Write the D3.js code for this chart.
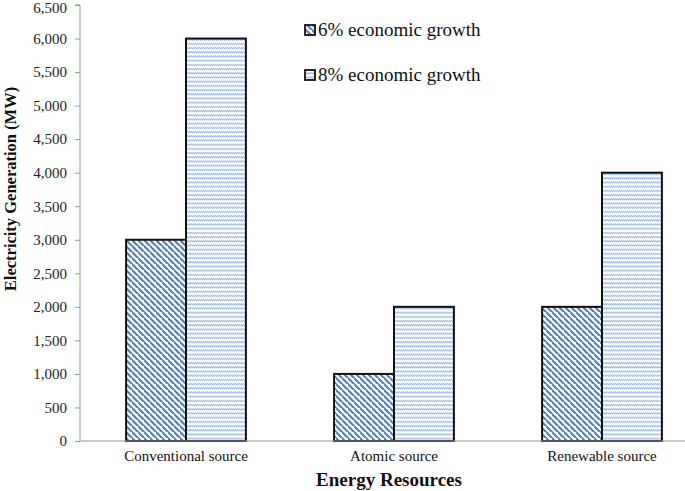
<!DOCTYPE html>
<html><head><meta charset="utf-8">
<script src="https://cdn.jsdelivr.net/npm/d3@7"></script>
<style>body{margin:0;background:#fff}svg{display:block}</style>
</head><body>
<svg id="c" width="685" height="491"></svg>
<script>
const categories = ["Conventional source", "Atomic source", "Renewable source"];
const seriesNames = ["6% economic growth", "8% economic growth"];
const growth6 = [3000, 1000, 2000];
const growth8 = [6000, 2000, 4000];
const yTicks = [0, 500, 1000, 1500, 2000, 2500, 3000, 3500, 4000, 4500, 5000, 5500, 6000, 6500];

const svg = d3.select("#c");
const defs = svg.append("defs");
// 6% pattern: diagonal stripes
const p1 = defs.append("pattern").attr("id","p6").attr("patternUnits","userSpaceOnUse")
  .attr("width",6).attr("height",6);
p1.append("rect").attr("width",6).attr("height",6).attr("fill","#fff");
p1.append("path").attr("d","M-1,-1 L7,7 M-4,2 L2,8 M4,-4 L10,2")
  .attr("stroke","#4f81bd").attr("stroke-width",2.1);
// 8% pattern: light dashed horizontal rows
const p2 = defs.append("pattern").attr("id","p8").attr("patternUnits","userSpaceOnUse")
  .attr("width",4).attr("height",4.2);
p2.append("rect").attr("width",4).attr("height",4.2).attr("fill","#fff");
p2.append("path").attr("d","M0,2.6 L2,1.2 M2,2.6 L4,1.2")
  .attr("stroke","#9ab8e2").attr("stroke-width",1.3);

const fills = ["url(#p6)", "url(#p8)"];
const data = categories.map((c,i)=>({cat:c, vals:[growth6[i], growth8[i]]}));

const y = d3.scaleLinear().domain([0, 6500]).range([441, 5]);
const x0 = d3.scaleBand().domain(categories).range([82, 706]).paddingInner(0.424).paddingOuter(0.212);
const x1 = d3.scaleBand().domain([0,1]).range([0, x0.bandwidth()]);

// y axis
const ya = svg.append("g").attr("transform","translate(80,0)")
  .call(d3.axisLeft(y).tickValues(yTicks).tickSize(5).tickPadding(8).tickFormat(d3.format(",")));
ya.select(".domain").attr("stroke","#999").attr("d","M-5,"+y(6500)+"H0V"+y(0));
ya.selectAll(".tick line").attr("stroke","#999");
ya.selectAll("text").attr("font-family","Liberation Serif, serif").attr("font-size",15).attr("fill","#222");
ya.selectAll(".tick").filter(d=>d===6500).select("text").attr("dy","0.5em");

// bars
const g = svg.append("g");
data.forEach(d=>{
  d.vals.forEach((v,j)=>{
    g.append("rect")
      .attr("x", x0(d.cat)+x1(j))
      .attr("y", y(v))
      .attr("width", x1.bandwidth())
      .attr("height", y(0)-y(v))
      .attr("fill", fills[j])
      .attr("stroke","#111").attr("stroke-width",2);
  });
});

// x axis
const xa = svg.append("g").attr("transform","translate(0,441)")
  .call(d3.axisBottom(x0).tickSize(0).tickPadding(9));
xa.select(".domain").attr("stroke","#999").attr("d","M80,0H685");
xa.selectAll("text").attr("font-family","Liberation Serif, serif").attr("font-size",15).attr("fill","#111");

// axis titles
svg.append("text").attr("x",389).attr("y",486).attr("text-anchor","middle")
  .attr("font-family","Liberation Serif, serif").attr("font-size",19).attr("font-weight","bold")
  .attr("fill","#111").text("Energy Resources");
svg.append("text").attr("transform","translate(16,189) rotate(-90)").attr("text-anchor","middle")
  .attr("font-family","Liberation Serif, serif").attr("font-size",16.5).attr("font-weight","bold")
  .attr("fill","#111").text("Electricity Generation (MW)");

// legend
const legY = [30, 75];
seriesNames.forEach((s,i)=>{
  svg.append("rect").attr("x",305).attr("y",legY[i]-5).attr("width",10).attr("height",10)
    .attr("fill",fills[i]).attr("stroke","#111").attr("stroke-width",1.8);
  svg.append("text").attr("x",318).attr("y",legY[i]+6)
    .attr("font-family","Liberation Serif, serif").attr("font-size",19).attr("fill","#111").text(s);
});
</script>
</body></html>
